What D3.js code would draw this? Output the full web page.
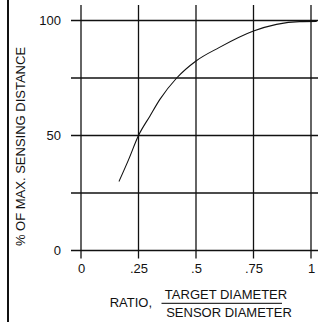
<!DOCTYPE html>
<html>
<head>
<meta charset="utf-8">
<script src="https://cdn.jsdelivr.net/npm/d3@7"></script>
<style>
  body { margin: 0; background: #fff; }
  svg { display: block; font-family: "Liberation Sans", Arial, sans-serif; }
</style>
</head>
<body>
<figure id="chart" style="margin:0"></figure>
<script>
// data
const ratio = [0.165, 0.206, 0.25, 0.3, 0.343, 0.416, 0.5, 0.6, 0.75, 0.85, 0.95, 1.025];
const distance = [30, 39.3, 50, 58.5, 65.7, 75, 82.4, 88.2, 95.4, 98.3, 99.5, 99.6];
const xTicks = [0, 0.25, 0.5, 0.75, 1];
const xTickLabels = ["0", ".25", ".5", ".75", "1"];
const yGrid = [0, 25, 50, 75, 100];
const yTickLabels = [0, 50, 100];

const width = 318, height = 322;

const svg = d3.select("figure#chart").append("svg")
  .attr("width", width)
  .attr("height", height);

const x = d3.scaleLinear().domain([0, 1]).range([81, 311]);
const y = d3.scaleLinear().domain([0, 100]).range([250.5, 20.5]);

// left border rule
svg.append("line")
  .attr("x1", 8).attr("x2", 8)
  .attr("y1", 0).attr("y2", height)
  .attr("stroke", "#111").attr("stroke-width", 2);

// grid (vertical)
svg.append("g").selectAll("line")
  .data(xTicks)
  .enter().append("line")
  .attr("x1", d => x(d)).attr("x2", d => x(d))
  .attr("y1", 5).attr("y2", y(0) + 8)
  .attr("stroke", "#111").attr("stroke-width", 1.3);

// grid (horizontal)
svg.append("g").selectAll("line")
  .data(yGrid)
  .enter().append("line")
  .attr("x1", x(0) - 10).attr("x2", width)
  .attr("y1", d => y(d)).attr("y2", d => y(d))
  .attr("stroke", "#111").attr("stroke-width", 1.3);

// x tick labels
svg.append("g")
  .attr("transform", "translate(0," + (y(0) + 10) + ")")
  .call(d3.axisBottom(x).tickValues(xTicks).tickSize(0).tickFormat((d, i) => xTickLabels[i]))
  .call(g => g.select(".domain").remove())
  .selectAll("text")
  .attr("font-size", 13)
  .attr("font-family", "Liberation Sans, Arial, sans-serif")
  .attr("fill", "#111");

// y tick labels
svg.append("g")
  .attr("transform", "translate(" + (x(0) - 17) + ",0)")
  .call(d3.axisLeft(y).tickValues(yTickLabels).tickSize(0))
  .call(g => g.select(".domain").remove())
  .selectAll("text")
  .attr("font-size", 13)
  .attr("font-family", "Liberation Sans, Arial, sans-serif")
  .attr("fill", "#111");

// curve
const line = d3.line()
  .x((d, i) => x(ratio[i]))
  .y(d => y(d))
  .curve(d3.curveMonotoneX);

svg.append("path")
  .datum(distance)
  .attr("d", line)
  .attr("fill", "none")
  .attr("stroke", "#111")
  .attr("stroke-width", 1.1);

// y title
svg.append("text")
  .attr("transform", "translate(25,146.5)rotate(-90)")
  .attr("text-anchor", "middle")
  .attr("font-size", 13)
  .attr("fill", "#111")
  .text("% OF MAX. SENSING DISTANCE");

// x title
svg.append("text")
  .attr("x", 152).attr("y", 307)
  .attr("text-anchor", "end")
  .attr("font-size", 13)
  .attr("fill", "#111")
  .text("RATIO,");

svg.append("text")
  .attr("x", 226).attr("y", 299)
  .attr("text-anchor", "middle")
  .attr("font-size", 13)
  .attr("fill", "#111")
  .text("TARGET DIAMETER");

svg.append("line")
  .attr("x1", 161.5).attr("x2", 282)
  .attr("y1", 303.3).attr("y2", 303.3)
  .attr("stroke", "#333").attr("stroke-width", 1.3);

svg.append("text")
  .attr("x", 229).attr("y", 317)
  .attr("text-anchor", "middle")
  .attr("font-size", 13)
  .attr("fill", "#111")
  .text("SENSOR DIAMETER");
</script>
</body>
</html>
